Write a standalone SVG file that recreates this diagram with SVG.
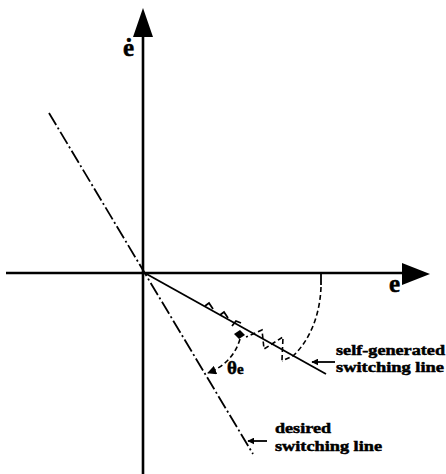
<svg xmlns="http://www.w3.org/2000/svg" width="446" height="474" viewBox="0 0 446 474">
<style>
.ax{stroke:#000;stroke-width:2.6;fill:none}
.sol{stroke:#000;stroke-width:1.8;fill:none}
.dd{stroke:#000;stroke-width:1.8;fill:none;stroke-dasharray:14 3 2 3}
.ds{stroke:#000;stroke-width:1.6;fill:none;stroke-dasharray:5 3}
.lbl{font-family:"Liberation Serif","Times New Roman",serif;font-weight:bold;fill:#000;stroke:#000;stroke-width:0.5}
</style>
<defs>
<marker id="ah" viewBox="0 0 10 10" refX="9" refY="5" markerWidth="7" markerHeight="7" markerUnits="userSpaceOnUse" orient="auto">
<path d="M0,0 L10,5 L0,10 z" fill="#000"/>
</marker>
<marker id="ah2" viewBox="0 0 10 10" refX="9" refY="5" markerWidth="9" markerHeight="9" markerUnits="userSpaceOnUse" orient="auto">
<path d="M0,0 L10,5 L0,10 z" fill="#000"/>
</marker>
</defs>
<rect width="446" height="474" fill="#fff"/>
<g id="axes">
<line class="ax" x1="143" y1="30" x2="143" y2="474"/>
<polygon points="143,8 133,37 153,37" fill="#000"/>
<line class="ax" x1="6" y1="273" x2="405" y2="273"/>
<polygon points="430,274 402,263 402,285" fill="#000"/>
<text class="lbl" x="123" y="56" font-size="25">ė</text>
<text class="lbl" x="389" y="292" font-size="25">e</text>
</g>
<g id="desired-line">
<line class="dd" x1="49" y1="113" x2="253" y2="454"/>
</g>
<g id="self-line">
<line class="sol" x1="143" y1="272" x2="326" y2="374"/>
</g>
<g id="trajectory">
<line class="sol" x1="321" y1="273" x2="321" y2="285"/>
<path class="ds" d="M321,287 C320,315 310,340 293,356 L282,361"/>
<path class="ds" d="M282,360 L283,337 L264,349 L262,330 L246,337"/>
<polygon points="234,334 240,330 245,335 239,339" fill="#000"/>
<path class="sol" stroke-width="1.3" d="M232,326 L236,321 L241,323 M220,315 L224,312 L228,318 M205,306 L209,303 L213,309"/>
</g>
<g id="theta-arc">
<path class="ds" d="M240,339 Q233,363 208,373" marker-end="url(#ah2)"/>
<text class="lbl" x="227" y="374" font-size="19">θ<tspan font-size="15">e</tspan></text>
</g>
<g id="connectors">
<line class="sol" stroke-width="1.4" x1="335" y1="362" x2="312" y2="362" marker-end="url(#ah)"/>
<line class="sol" stroke-width="1.4" x1="267" y1="441" x2="248" y2="441" marker-end="url(#ah)"/>
</g>
<g id="label-self">
<text class="lbl" x="336" y="355" font-size="15" textLength="109" lengthAdjust="spacingAndGlyphs">self-generated</text>
<text class="lbl" x="336" y="372" font-size="15" textLength="108" lengthAdjust="spacingAndGlyphs">switching line</text>
</g>
<g id="label-desired">
<text class="lbl" x="275" y="433" font-size="15" textLength="56" lengthAdjust="spacingAndGlyphs">desired</text>
<text class="lbl" x="275" y="451" font-size="15" textLength="107" lengthAdjust="spacingAndGlyphs">switching line</text>
</g>
</svg>
